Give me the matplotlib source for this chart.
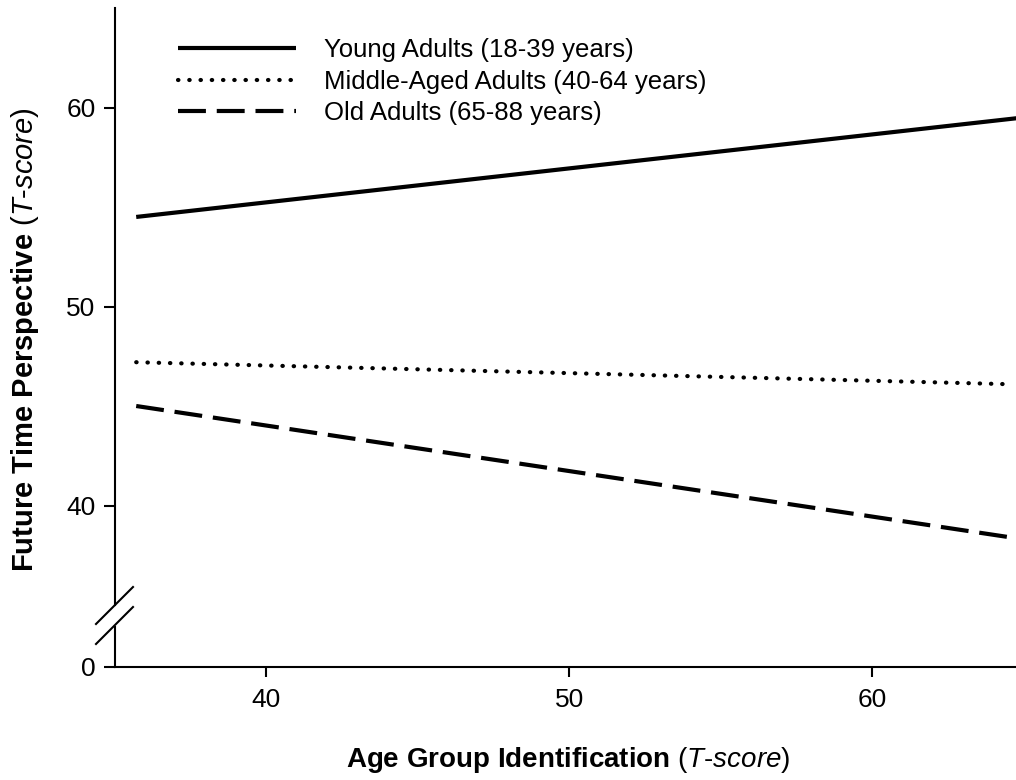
import matplotlib
matplotlib.use("Agg")
from matplotlib import pyplot as plt
from matplotlib.lines import Line2D

plt.rcParams['font.family'] = ['Liberation Sans', 'DejaVu Sans']
plt.rcParams['mathtext.fontset'] = 'custom'
plt.rcParams['mathtext.rm'] = 'Liberation Sans'
plt.rcParams['mathtext.it'] = 'Liberation Sans:italic'
plt.rcParams['mathtext.bf'] = 'Liberation Sans:bold'

# data
groups = ["Young Adults (18-39 years)", "Middle-Aged Adults (40-64 years)", "Old Adults (65-88 years)"]
x_young = [35.7, 65.0]
y_young = [54.5, 59.5]
x_middle = [35.7, 64.4]
y_middle = [47.2, 46.1]
x_old = [35.7, 65.0]
y_old = [45.0, 38.3]

x_ticks = [40, 50, 60]
y_ticks = [40, 50, 60]

W, H = 1016, 780
fig = plt.figure(figsize=(W / 100, H / 100), dpi=100)

left = 115 / W
width = 1 - left
ax = fig.add_axes([left, (H - 605) / H, width, (605 - 8) / H])
ax_b = fig.add_axes([left, (H - 667) / H, width, (667 - 627) / H])

lw = 3
ax.plot(x_young, y_young, color="black", lw=lw, solid_capstyle="butt", label=groups[0])
ax.plot(x_middle, y_middle, color="black", lw=lw, linestyle=(0, (0.1, 2.6)),
        dash_capstyle="round", label=groups[1])
ax.plot(x_old, y_old, color="black", lw=lw, linestyle=(0, (6.7, 2.6)),
        dash_capstyle="butt", label=groups[2])

ax.set_xlim(35, 64.75)
ax.set_ylim(35, 65)
ax.set_yticks(y_ticks)
ax.set_xticks([])
for s in ["top", "right", "bottom"]:
    ax.spines[s].set_visible(False)
ax.spines["left"].set_linewidth(1.5)
ax.tick_params(axis="y", direction="out", length=8, width=1.5, labelsize=19, pad=6)

ax_b.set_xlim(35, 64.75)
ax_b.set_ylim(0, 5)
ax_b.set_yticks([0])
ax_b.set_xticks(x_ticks)
for s in ["top", "right"]:
    ax_b.spines[s].set_visible(False)
ax_b.spines["left"].set_linewidth(1.5)
ax_b.spines["bottom"].set_linewidth(1.5)
ax_b.tick_params(axis="y", direction="out", length=8, width=1.5, labelsize=19, pad=6)
ax_b.tick_params(axis="x", direction="out", length=7, width=1.5, labelsize=19, pad=8)
ax_b.patch.set_alpha(0)

# break marks
for y0 in (624, 644):
    fig.add_artist(Line2D([96 / W, 133 / W], [(H - y0) / H, (H - y0 + 37) / H],
                          color="black", lw=1.5))

leg = ax.legend(loc="upper left", bbox_to_anchor=(178 / W, (H - 38) / H),
                bbox_transform=fig.transFigure, frameon=False, fontsize=18.5,
                handlelength=4.6, handletextpad=1.1, borderpad=0, borderaxespad=0,
                labelspacing=0.3)

fig.text(568 / W, (H - 760) / H,
         r"$\mathbf{Age\ Group\ Identification}$ $\mathit{(T}$-$\mathit{score)}$",
         ha="center", va="center", fontsize=20)
fig.text(25 / W, (H - 340) / H,
         r"$\mathbf{Future\ Time\ Perspective}$ $\mathit{(T}$-$\mathit{score)}$",
         ha="center", va="center", rotation=90, fontsize=21)

fig.savefig("out.png", dpi=100)
